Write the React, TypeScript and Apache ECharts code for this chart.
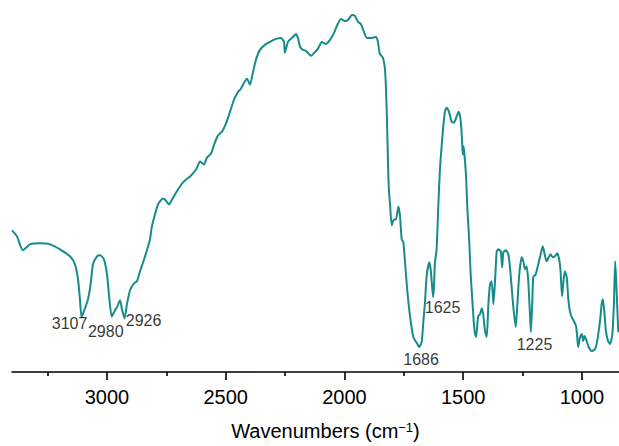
import React, { useEffect, useRef } from "react";
import * as echarts from "echarts";

// Wavenumber (cm-1) of each sampled point of the spectrum
const wavenumbers = [
  3400, 3379, 3354, 3324, 3282, 3240, 3198, 3156, 3135, 3122, 3114, 3107, 3097, 3080, 3069, 3059, 3042, 3029, 3013, 3000,
  2992, 2980, 2966, 2958, 2945, 2937, 2926, 2916, 2903, 2886, 2874, 2861, 2848, 2832, 2819, 2811, 2798, 2785, 2764, 2752,
  2739, 2726, 2709, 2684, 2667, 2650, 2625, 2608, 2592, 2579, 2562, 2549, 2533, 2516, 2499, 2482, 2465, 2448, 2436, 2423,
  2410, 2398, 2385, 2373, 2356, 2335, 2314, 2288, 2267, 2255, 2251, 2238, 2221, 2204, 2196, 2187, 2175, 2162, 2154, 2141,
  2124, 2112, 2095, 2078, 2061, 2044, 2032, 2015, 1998, 1985, 1968, 1956, 1943, 1931, 1918, 1905, 1884, 1867, 1859, 1851,
  1838, 1830, 1825, 1821, 1817, 1813, 1808, 1801, 1792, 1783, 1773, 1766, 1759, 1752, 1745, 1736, 1724, 1710, 1693, 1686,
  1675, 1668, 1661, 1654, 1643, 1636, 1627, 1623, 1619, 1612, 1605, 1598, 1591, 1584, 1577, 1570, 1560, 1549, 1539, 1528,
  1519, 1511, 1505, 1502, 1498, 1494, 1488, 1483, 1475, 1469, 1460, 1453, 1446, 1437, 1429, 1422, 1416, 1408, 1401, 1394,
  1387, 1380, 1373, 1366, 1359, 1352, 1342, 1336, 1331, 1320, 1310, 1303, 1296, 1289, 1279, 1272, 1264, 1254, 1247, 1240,
  1233, 1226, 1219, 1215, 1209, 1205, 1195, 1186, 1177, 1165, 1157, 1149, 1140, 1132, 1123, 1114, 1104, 1096, 1090, 1084,
  1079, 1072, 1064, 1058, 1051, 1043, 1034, 1025, 1020, 1016, 1008, 1000, 995, 989, 980, 972, 959, 945, 936, 924,
  917, 912, 906, 899, 890, 882, 872, 865, 860, 854, 847, 844,
];

// Transmittance (arbitrary units) at each wavenumber
const transmittance = [
  35.5, 34, 30.5, 32, 32.25, 32, 30.75, 29, 27, 23.25, 18.25, 13.75, 15.25, 18.25, 22, 27, 29, 29.25, 28.25, 24.5,
  19.5, 13.9, 15.5, 16.25, 18, 15.75, 13.4, 17, 20.5, 22.25, 22.75, 25.25, 27.5, 30.5, 33.25, 36.5, 39.5, 42, 43.5, 43,
  42, 43.25, 45, 47.25, 48.25, 49, 50.75, 52.75, 52, 53.75, 54.75, 57, 59.25, 60.25, 62.25, 65.25, 68.25, 70.25, 71, 72.5,
  73.5, 72, 75.25, 78.25, 80.75, 82, 82.75, 83.5, 83.75, 82.75, 80, 82.75, 83.75, 84.75, 83.75, 81.5, 80.75, 80.5, 80, 79.25,
  80.25, 81, 82.75, 82.25, 83.25, 85, 86.75, 88.5, 88, 88.25, 89.5, 89.25, 87.75, 87.25, 85.25, 83.75, 83.75, 84, 82.75, 79.75,
  78.75, 76.25, 70.75, 63.25, 53.25, 45.75, 42, 36.75, 38.25, 38.25, 41.5, 39, 33.25, 32.5, 27.5, 20.75, 14, 8.75, 7, 6.25,
  7.5, 12.5, 17.5, 24, 27.5, 25.25, 18.75, 21.5, 27.5, 30.75, 41.5, 50.75, 56.5, 61.5, 65.25, 66.25, 65.25, 62.75, 62.5, 64,
  65.25, 63.25, 58.25, 54.5, 56.5, 54, 49, 41.5, 33.25, 25, 16.5, 10.75, 8.75, 14, 14.5, 16, 14.5, 10.25, 8.75, 17,
  22, 22.75, 17, 22.75, 30.25, 30.75, 30.25, 26.25, 30, 30.5, 29.5, 26.25, 21.25, 16.25, 11.25, 17, 24.5, 28.75, 27.75, 25.75,
  26.5, 22.75, 14.5, 10, 17.75, 23.75, 24.5, 26.5, 28.75, 31.5, 29.5, 27.75, 28.75, 29.5, 28.75, 29, 29.75, 28.25, 25.25, 19,
  22, 25.25, 23.75, 18.75, 15.25, 13.75, 12.75, 11.5, 8.75, 6.25, 8.75, 9.5, 7.75, 9, 7.75, 6.25, 5.25, 5.75, 7.75, 12.75,
  17, 18.25, 15.25, 10.25, 7.75, 7, 9.5, 17.75, 27.75, 20.25, 10.25, 10,
];

// Annotated absorption bands
const peakLabels = ["3107", "2980", "2926", "1686", "1625", "1225"];
const peakWavenumbers = [3107, 2980, 2926, 1686, 1625, 1225];
const peakValues = [13.75, 13.9, 13.4, 6.25, 18.75, 10];
const peakLabelOffsets = [
  [-12, 6],
  [-6, 14.5],
  [19, 1.5],
  [2, 12],
  [9, 10],
  [6, 12],
];

// Axis ticks
const majorTicks = [3000, 2500, 2000, 1500, 1000];
const minorTicks = [3250, 2750, 2250, 1750, 1250];
const xMin = 844;
const xMax = 3400;

const FONT = "'Liberation Sans', Arial, Helvetica, sans-serif";

export default function App() {
  const ref = useRef<HTMLDivElement>(null);

  useEffect(() => {
    if (!ref.current) return;
    const chart = echarts.init(ref.current, undefined, { renderer: "svg" });

    const lineData = wavenumbers.map((w, i) => [w, transmittance[i]]);
    const peakData = peakLabels.map((name, i) => ({
      name,
      value: [peakWavenumbers[i], peakValues[i]],
      label: { offset: peakLabelOffsets[i] },
    }));

    chart.setOption({
      animation: false,
      backgroundColor: "#ffffff",
      grid: { left: 12, right: 0, top: 0, bottom: 73 },
      xAxis: [
        {
          type: "value",
          inverse: true,
          min: xMin,
          max: xMax,
          name: "Wavenumbers (cm{sup|−1})",
          nameLocation: "middle",
          nameGap: 49,
          nameTextStyle: {
            fontFamily: FONT,
            fontSize: 20,
            color: "#000",
            padding: [0, 0, 0, 20],
            rich: {
              sup: {
                fontFamily: FONT,
                fontSize: 13,
                color: "#000",
                verticalAlign: "top",
                padding: [0, 0, 6, 0],
              },
            },
          },
          axisLine: { show: true, lineStyle: { color: "#000", width: 1.6 } },
          axisTick: {
            show: true,
            length: 8,
            lineStyle: { color: "#000", width: 1.6 },
            customValues: majorTicks,
          },
          axisLabel: {
            show: true,
            margin: 15,
            fontFamily: FONT,
            fontSize: 20,
            color: "#000",
            customValues: majorTicks,
            formatter: (v: number) => String(v),
          },
          splitLine: { show: false },
        },
        {
          type: "value",
          inverse: true,
          min: xMin,
          max: xMax,
          position: "bottom",
          axisLine: { show: false },
          axisTick: {
            show: true,
            length: 4,
            lineStyle: { color: "#000", width: 1.6 },
            customValues: minorTicks,
          },
          axisLabel: { show: false },
          splitLine: { show: false },
        },
      ],
      yAxis: { type: "value", show: false, min: 0, max: 93.25, splitLine: { show: false } },
      series: [
        {
          type: "line",
          data: lineData,
          showSymbol: false,
          symbol: "none",
          smooth: 0.2,
          lineStyle: { color: "#178b8b", width: 2 },
          z: 2,
        },
        {
          type: "scatter",
          data: peakData,
          symbolSize: 0,
          silent: true,
          label: {
            show: true,
            position: "inside",
            formatter: "{b}",
            fontFamily: FONT,
            fontSize: 16,
            color: "#000",
          },
          z: 3,
        },
      ],
    });

    return () => chart.dispose();
  }, []);

  return (
    <div
      ref={ref}
      style={{ position: "fixed", left: 0, top: 0, width: 619, height: 446, background: "#fff" }}
    />
  );
}
